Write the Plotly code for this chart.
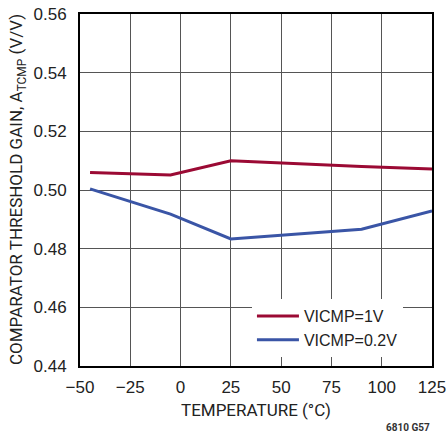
import plotly.graph_objects as go

# temperatures (°C) and comparator threshold gain (V/V)
temp_1v = [-45, -5, 25, 90, 125]
gain_1v = [0.5060, 0.5051, 0.5100, 0.5080, 0.5072]

temp_02v = [-45, -5, 25, 90, 125]
gain_02v = [0.5004, 0.4918, 0.4833, 0.4866, 0.4929]

x_ticks = [-50, -25, 0, 25, 50, 75, 100, 125]
y_ticks = [0.44, 0.46, 0.48, 0.50, 0.52, 0.54, 0.56]

TXT = "#222222"
PLOT_W = 352
PLOT_H = 352

fig = go.Figure()

fig.add_trace(go.Scatter(x=temp_1v, y=gain_1v, mode="lines", name="VICMP=1V",
                         line=dict(color="#9b0a34", width=3)))
fig.add_trace(go.Scatter(x=temp_02v, y=gain_02v, mode="lines", name="VICMP=0.2V",
                         line=dict(color="#3a55a6", width=3)))

fig.update_xaxes(
    range=[-50, 125], tickvals=x_ticks, automargin=False,
    showgrid=True, gridcolor="#555555", gridwidth=1,
    showline=True, linecolor="black", linewidth=2, mirror=True,
    ticks="outside", ticklen=5, tickcolor="rgba(0,0,0,0)",
    ticklabeloverflow="allow",
    tickfont=dict(family="Liberation Sans", size=17, color=TXT),
    zeroline=False,
)
fig.update_yaxes(
    range=[0.44, 0.56], tickvals=y_ticks, tickformat=".2f", automargin=False,
    showgrid=True, gridcolor="#555555", gridwidth=1,
    showline=True, linecolor="black", linewidth=2, mirror=True,
    ticks="outside", ticklen=8, tickcolor="rgba(0,0,0,0)",
    ticklabeloverflow="allow",
    tickfont=dict(family="Liberation Sans", size=17, color=TXT),
    zeroline=False,
)

fig.update_layout(
    width=446, height=436,
    margin=dict(l=80, r=14, t=14, b=70),
    plot_bgcolor="white", paper_bgcolor="white",
    legend=dict(x=0.4885, y=0.19, xanchor="left", yanchor="top",
                bgcolor="white", borderwidth=0, itemwidth=42,
                font=dict(family="Liberation Sans", size=16, color=TXT)),
    annotations=[
        dict(text="COMPARATOR THRESHOLD GAIN, A<sub>TCMP</sub> (V/V)",
             x=-63 / PLOT_W, y=0.5, xref="paper", yref="paper", textangle=-90,
             xanchor="center", yanchor="middle", showarrow=False,
             font=dict(family="Roboto", size=17, color=TXT)),
        dict(text="TEMPERATURE (°C)", x=0.5, y=-44 / PLOT_H, xref="paper", yref="paper",
             xanchor="center", yanchor="middle", showarrow=False,
             font=dict(family="Roboto", size=17, color=TXT)),
        dict(text="6810 G57", x=1.0, y=-61 / PLOT_H, xref="paper", yref="paper",
             xanchor="right", yanchor="middle", showarrow=False,
             font=dict(family="Roboto", size=10, color="#333333", weight="bold")),
    ],
)

# drop the default page margin so the figure sits at the window's corner
fig.write_html("out.html", config={"displayModeBar": False},
               post_script="document.body.style.margin='0';document.body.style.overflow='hidden';")
